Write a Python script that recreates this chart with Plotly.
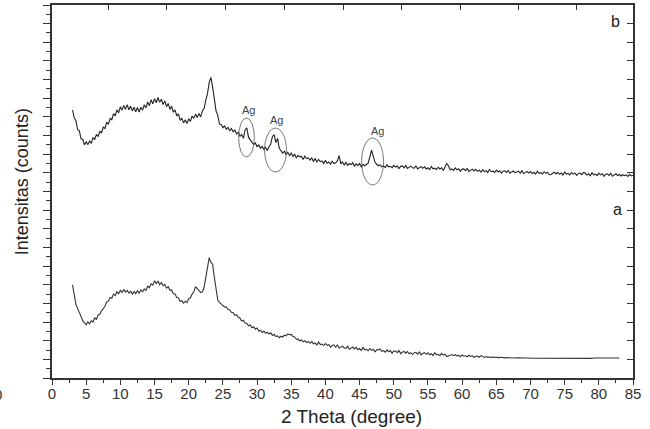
import plotly.graph_objects as go

# ---- data ----
# 2-theta grid: start and step of the sampled patterns
THETA_START = 3.0
THETA_STEP = 0.25

# pattern b (with Ag), counts, 3.00 .. 85.00 deg
counts_b = [
    1437, 1395, 1380, 1332, 1325, 1282, 1280, 1250, 1266, 1252, 1270, 1258, 1288, 1280, 1304, 1296, 1322, 1315, 1345, 1338,
    1372, 1360, 1392, 1385, 1418, 1405, 1438, 1422, 1455, 1436, 1462, 1440, 1466, 1438, 1458, 1432, 1452, 1428, 1450, 1426,
    1452, 1436, 1465, 1448, 1480, 1460, 1492, 1470, 1498, 1476, 1504, 1478, 1495, 1466, 1486, 1455, 1472, 1440, 1458, 1425,
    1438, 1405, 1416, 1382, 1392, 1368, 1385, 1364, 1390, 1376, 1405, 1392, 1415, 1396, 1418, 1400, 1432, 1445, 1490, 1525,
    1585, 1612, 1560, 1505, 1432, 1408, 1362, 1360, 1342, 1352, 1334, 1344, 1326, 1338, 1320, 1330, 1308, 1318, 1296, 1306,
    1285, 1330, 1342, 1290, 1275, 1265, 1252, 1260, 1240, 1250, 1232, 1242, 1226, 1236, 1220, 1240, 1255, 1295, 1305, 1262,
    1285, 1232, 1222, 1206, 1216, 1198, 1210, 1192, 1206, 1188, 1200, 1180, 1194, 1186, 1188, 1172, 1190, 1176, 1180, 1168,
    1180, 1162, 1176, 1158, 1172, 1160, 1164, 1150, 1168, 1152, 1158, 1146, 1162, 1150, 1154, 1164, 1192, 1148, 1158, 1142,
    1156, 1140, 1150, 1144, 1154, 1136, 1148, 1140, 1150, 1132, 1146, 1138, 1145, 1152, 1185, 1222, 1190, 1158, 1146, 1138,
    1143, 1132, 1138, 1128, 1144, 1132, 1135, 1128, 1140, 1131, 1137, 1123, 1135, 1137, 1127, 1139, 1124, 1130, 1136, 1127,
    1125, 1137, 1121, 1128, 1133, 1124, 1132, 1121, 1127, 1117, 1134, 1121, 1125, 1118, 1130, 1121, 1127, 1113, 1130, 1150,
    1138, 1117, 1121, 1113, 1126, 1116, 1122, 1108, 1120, 1121, 1112, 1123, 1108, 1114, 1120, 1110, 1119, 1108, 1114, 1104,
    1117, 1106, 1112, 1102, 1118, 1106, 1109, 1102, 1115, 1105, 1111, 1098, 1109, 1111, 1102, 1113, 1098, 1105, 1110, 1101,
    1107, 1109, 1099, 1111, 1096, 1102, 1108, 1099, 1107, 1096, 1103, 1093, 1109, 1097, 1101, 1094, 1106, 1097, 1103, 1090,
    1091, 1098, 1104, 1094, 1103, 1092, 1099, 1088, 1105, 1093, 1097, 1089, 1102, 1093, 1099, 1086, 1097, 1099, 1090, 1102,
    1099, 1088, 1095, 1084, 1101, 1089, 1093, 1085, 1098, 1089, 1095, 1081, 1093, 1095, 1086, 1098, 1082, 1089, 1095, 1086,
    1091, 1083, 1090, 1085, 1089, 1081, 1092, 1084, 1087,
]

# pattern a, counts, 3.00 .. 83.00 deg
counts_a = [
    500, 440, 395, 372, 345, 330, 306, 298, 285, 302, 290, 308, 300, 322, 315, 338, 342, 360, 372, 385,
    408, 412, 432, 428, 450, 442, 462, 452, 470, 458, 475, 460, 470, 455, 466, 450, 464, 452, 468, 455,
    472, 462, 478, 470, 492, 485, 505, 498, 522, 505, 520, 500, 512, 495, 502, 482, 490, 470, 472, 452,
    450, 432, 430, 410, 415, 402, 412, 404, 425, 430, 450, 462, 490, 478, 470, 458, 462, 485, 540, 600,
    645, 620, 610, 540, 480, 418, 405, 396, 392, 380, 382, 368, 365, 352, 350, 336, 340, 325, 322, 305,
    310, 295, 292, 280, 284, 270, 275, 262, 268, 252, 256, 244, 252, 240, 246, 236, 242, 228, 234, 222,
    226, 216, 224, 220, 230, 226, 236, 232, 234, 222, 220, 208, 210, 198, 204, 194, 200, 190, 196, 186,
    195, 183, 188, 177, 193, 179, 182, 174, 185, 175, 180, 165, 176, 177, 166, 177, 161, 166, 171, 161,
    159, 170, 154, 160, 166, 156, 164, 152, 158, 147, 164, 151, 154, 146, 158, 148, 154, 140, 151, 152,
    156, 143, 147, 139, 151, 141, 147, 133, 144, 145, 136, 147, 131, 138, 143, 133, 142, 130, 136, 126,
    136, 138, 128, 140, 124, 131, 136, 127, 135, 124, 130, 120, 136, 124, 127, 120, 132, 123, 128, 115,
    118, 123, 126, 120, 125, 118, 121, 114, 125, 117, 119, 114, 122, 116, 119, 110, 117, 118, 111, 120,
    116, 110, 115, 111, 114, 109, 113, 110, 112, 108, 111, 109, 110, 108, 109, 108, 108, 107, 108, 107,
    108, 107, 107, 107, 107, 107, 107, 106, 107, 106, 106, 106, 106, 105, 105, 105, 105, 104, 104, 103,
    103, 102, 102, 102, 102, 102, 102, 102, 102, 102, 102, 102, 102, 102, 102, 102, 102, 102, 102, 102,
    102, 102, 102, 102, 105, 107, 107, 107, 107, 107, 107, 107, 107, 107, 107, 107, 107, 107, 107, 107,
    107,
]

# Ag reflections: marker ellipses (x0, x1, y0, y1) and label positions
ag_labels = ["Ag", "Ag", "Ag"]
ag_label_x = [28.7, 32.8, 47.6]
ag_label_y = [1437, 1383, 1324]
ag_ellipse_x0 = [27.3, 31.1, 45.3]
ag_ellipse_x1 = [29.6, 34.3, 48.5]
ag_ellipse_y0 = [1185, 1105, 1035]
ag_ellipse_y1 = [1394, 1340, 1287]

# curve labels
curve_labels = ["b", "a"]
curve_label_x = [82.4, 82.8]
curve_label_y = [1909, 901]

# top axis tick positions (inner ticks)
top_ticks = [8.2, 16.8, 25.4, 34.0, 42.6, 51.2, 59.7, 68.3, 76.8]

theta_b = [round(THETA_START + THETA_STEP * i, 2) for i in range(len(counts_b))]
theta_a = [round(THETA_START + THETA_STEP * i, 2) for i in range(len(counts_a))]

FONT = "Liberation Sans, Arial, sans-serif"
AX = "#333333"

fig = go.Figure()
fig.add_trace(go.Scatter(x=theta_b, y=counts_b, mode="lines",
                         line=dict(color="#222222", width=1.1), showlegend=False))
fig.add_trace(go.Scatter(x=theta_a, y=counts_a, mode="lines",
                         line=dict(color="#333333", width=1.1), showlegend=False))
fig.add_trace(go.Scatter(x=[None], y=[None], xaxis="x2", yaxis="y2",
                         showlegend=False, hoverinfo="skip"))

for i in range(len(ag_labels)):
    fig.add_shape(type="circle", xref="x", yref="y",
                  x0=ag_ellipse_x0[i], x1=ag_ellipse_x1[i],
                  y0=ag_ellipse_y0[i], y1=ag_ellipse_y1[i],
                  line=dict(color="#555555", width=0.8))
    fig.add_annotation(x=ag_label_x[i], y=ag_label_y[i], text=ag_labels[i],
                       showarrow=False, font=dict(family=FONT, size=11, color="#444"))

for i in range(len(curve_labels)):
    fig.add_annotation(x=curve_label_x[i], y=curve_label_y[i], text=curve_labels[i],
                       showarrow=False, font=dict(family=FONT, size=16, color="#222"))

fig.add_annotation(xref="paper", yref="paper", x=0.516, y=-0.102,
                   xanchor="center", yanchor="middle",
                   text="2 Theta (degree)", showarrow=False,
                   font=dict(family=FONT, size=19, color="#222"))
fig.add_annotation(xref="paper", yref="paper", x=-0.0516, y=0.525,
                   xanchor="center", yanchor="middle",
                   text="Intensitas (counts)", textangle=-90, showarrow=False,
                   font=dict(family=FONT, size=18, color="#222"))
fig.add_annotation(xref="paper", yref="paper", x=-0.083, y=-0.044,
                   text="0", showarrow=False, xanchor="right", yanchor="middle",
                   font=dict(family=FONT, size=15, color="#333"))

fig.update_layout(
    width=650, height=429,
    margin=dict(l=52, r=17, t=5, b=51, autoexpand=False),
    paper_bgcolor="white", plot_bgcolor="white",
    font=dict(family=FONT, color=AX),
    xaxis=dict(range=[0, 85], showline=True, linecolor=AX, linewidth=1.5,
               ticks="outside", ticklen=5, tickwidth=1.2, tickcolor=AX,
               tick0=0, dtick=5, showgrid=False, zeroline=False,
               ticklabelstandoff=-4,
               tickfont=dict(family=FONT, size=15, color="#333"),
               minor=dict(ticks="outside", ticklen=3, tickwidth=1, tickcolor=AX,
                          tick0=0, dtick=2.5, showgrid=False)),
    yaxis=dict(range=[0, 2000], showline=True, linecolor=AX, linewidth=1.5,
               ticks="outside", ticklen=7, tickwidth=1.2, tickcolor=AX,
               tick0=0, dtick=100, showticklabels=False, showgrid=False, zeroline=False,
               minor=dict(ticks="outside", ticklen=4, tickwidth=1, tickcolor=AX,
                          tick0=0, dtick=50, showgrid=False)),
    xaxis2=dict(range=[0, 85], overlaying="x", side="top", showline=True,
                linecolor=AX, linewidth=1.5, ticks="inside", ticklen=5, tickwidth=1.2,
                tickcolor=AX, tickmode="array", tickvals=top_ticks,
                showticklabels=False, showgrid=False, zeroline=False),
    yaxis2=dict(range=[0, 2000], overlaying="y", side="right", showline=True,
                linecolor=AX, linewidth=1.5, ticks="inside", ticklen=6, tickwidth=1.2,
                tickcolor=AX, tick0=0, dtick=100, showticklabels=False,
                showgrid=False, zeroline=False),
)

fig.write_html(
    "out.html",
    config={"displayModeBar": False},
    post_script="document.body.style.margin='0';document.body.style.padding='0';"
                "document.body.style.overflow='hidden';",
)
